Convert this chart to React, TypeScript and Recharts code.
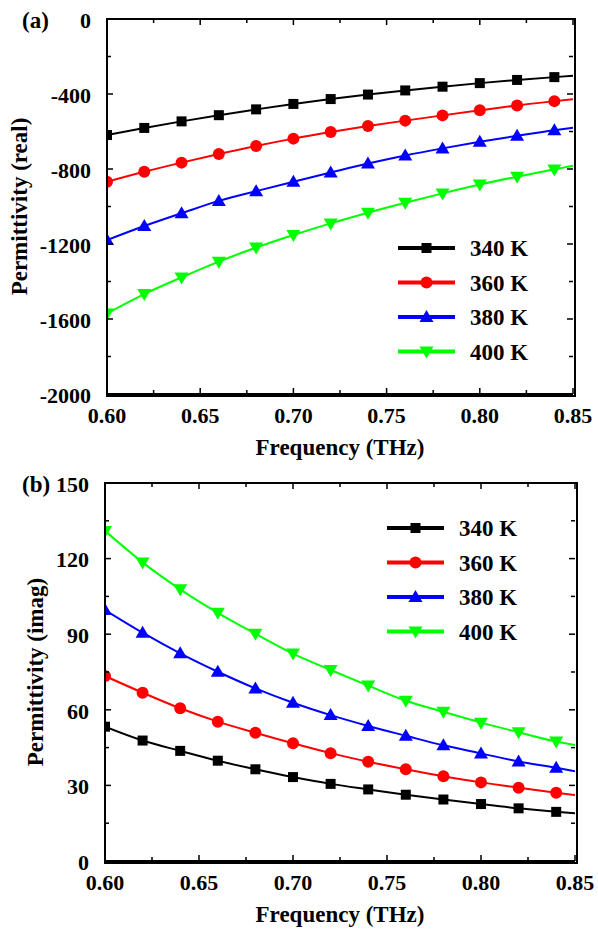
import React from "react";
import { LineChart, Line, XAxis, YAxis, Label } from "recharts";

// x positions (THz); markers on all but the last point
const FREQ = [0.6, 0.62, 0.64, 0.66, 0.68, 0.7, 0.72, 0.74, 0.76, 0.78, 0.8, 0.82, 0.84, 0.85];
const TEMPS = ["340 K", "360 K", "380 K", "400 K"];
const COLORS = ["#000000", "#ff0000", "#0000ff", "#00ff00"];

// (a) real part
const REAL_340 = [-619, -581, -546, -513, -482, -453, -427, -403, -381, -361, -342, -325, -310, -303];
const REAL_360 = [-868, -815, -766, -720, -677, -638, -603, -571, -542, -514, -487, -461, -438, -428];
const REAL_380 = [-1179, -1104, -1036, -970, -918, -868, -819, -771, -728, -690, -655, -623, -593, -580];
const REAL_400 = [-1570, -1467, -1378, -1294, -1219, -1152, -1090, -1033, -980, -930, -883, -841, -802, -783];

// (b) imaginary part
const IMAG_340 = [53.3, 47.8, 43.7, 39.8, 36.4, 33.3, 30.6, 28.4, 26.3, 24.4, 22.6, 20.9, 19.5, 18.9];
const IMAG_360 = [73.4, 66.8, 60.6, 55.3, 50.9, 46.7, 42.8, 39.4, 36.4, 33.6, 31.2, 29.1, 27.1, 26.2];
const IMAG_380 = [99.6, 90.6, 82.4, 75.1, 68.5, 62.8, 57.9, 53.6, 49.7, 45.9, 42.7, 39.5, 37.0, 35.6];
const IMAG_400 = [131, 118.5, 107.8, 98.5, 90.2, 82.3, 75.8, 69.6, 63.6, 59.2, 54.9, 51.1, 47.4, 46.0];

const X_TICKS = [0.6, 0.625, 0.65, 0.675, 0.7, 0.725, 0.75, 0.775, 0.8, 0.825, 0.85];
const REAL_TICKS = [-2000, -1800, -1600, -1400, -1200, -1000, -800, -600, -400, -200, 0];
const IMAG_TICKS = [0, 15, 30, 45, 60, 75, 90, 105, 120, 135, 150];

const FONT = "'Times New Roman', 'Liberation Serif', serif";
const W = 598;
const H = 465;
const X_DOMAIN: [number, number] = [0.6, 0.85];

type Box = { left: number; right: number; top: number; bottom: number };

function Marker({ kind, cx, cy, color }: { kind: number; cx: number; cy: number; color: string }) {
  if (kind === 0) return <rect x={cx - 5} y={cy - 5} width={10} height={10} fill={color} />;
  if (kind === 1) return <circle cx={cx} cy={cy} r={6} fill={color} />;
  if (kind === 2)
    return <polygon points={`${cx},${cy - 7} ${cx - 7},${cy + 5} ${cx + 7},${cy + 5}`} fill={color} />;
  return <polygon points={`${cx},${cy + 7} ${cx - 7},${cy - 5} ${cx + 7},${cy - 5}`} fill={color} />;
}

const T = (props: any) => <text style={{ fontFamily: FONT, fontWeight: 700 }} fill="#000" {...props} />;

interface PanelProps {
  series: number[][];
  yDomain: [number, number];
  yTicks: number[];
  yMajorStep: number;
  yTitle: string;
  yTitleX: number;
  tag: string;
  box: Box;
  legendAt: { x: number; y: number };
}

function Panel({ series, yDomain, yTicks, yMajorStep, yTitle, yTitleX, tag, box, legendAt }: PanelProps) {
  const rows = FREQ.map((f, i) => {
    const r: Record<string, number> = { f };
    series.forEach((s, k) => (r[`s${k}`] = s[i]));
    return r;
  });

  const isMajorX = (v: number) => Math.round(v * 1000) % 50 === 0;
  const isMajorY = (v: number) => Math.round(v) % yMajorStep === 0;

  // same linear mapping as the axes, used only for the frame ticks
  const sx = (v: number) => box.left + ((v - X_DOMAIN[0]) / (X_DOMAIN[1] - X_DOMAIN[0])) * (box.right - box.left);
  const sy = (v: number) => box.bottom - ((v - yDomain[0]) / (yDomain[1] - yDomain[0])) * (box.bottom - box.top);

  const bottomTick = (p: any) => {
    const v = p.payload.value;
    if (!isMajorX(v)) return <g />;
    return (
      <T x={p.x} y={box.bottom + 29} textAnchor="middle" fontSize={22}>
        {v.toFixed(2)}
      </T>
    );
  };
  const leftTick = (p: any) => {
    const v = p.payload.value;
    if (!isMajorY(v)) return <g />;
    return (
      <T x={box.left - 16} y={p.y} dy="0.4em" textAnchor="end" fontSize={22}>
        {v}
      </T>
    );
  };

  const dotFor = (k: number) => (p: any) => {
    if (p.index === FREQ.length - 1) return <g key={`d${k}-${p.index}`} />;
    return (
      <g key={`d${k}-${p.index}`}>
        <Marker kind={k} cx={p.cx} cy={p.cy} color={COLORS[k]} />
      </g>
    );
  };

  const plotMidY = (box.top + box.bottom) / 2;
  const axisLine = { stroke: "#000", strokeWidth: 2 };

  return (
    <div style={{ position: "relative", width: W, height: H }}>
      <LineChart
        width={W}
        height={H}
        data={rows}
        margin={{ top: box.top, right: W - box.right, left: 0, bottom: H - box.bottom - 30 }}
      >
        <XAxis
          dataKey="f"
          type="number"
          domain={X_DOMAIN}
          ticks={X_TICKS}
          interval={0}
          allowDataOverflow
          height={30}
          axisLine={axisLine}
          tickLine={false}
          tick={bottomTick}
        >
          <Label
            content={() => (
              <T x={(box.left + box.right) / 2} y={box.bottom + 61} textAnchor="middle" fontSize={23}>
                Frequency (THz)
              </T>
            )}
          />
        </XAxis>
        <YAxis
          type="number"
          domain={yDomain}
          ticks={yTicks}
          interval={0}
          allowDataOverflow
          width={box.left}
          axisLine={axisLine}
          tickLine={false}
          tick={leftTick}
        >
          <Label
            content={() => (
              <T
                x={yTitleX}
                y={plotMidY}
                textAnchor="middle"
                fontSize={23}
                transform={`rotate(-90 ${yTitleX} ${plotMidY})`}
              >
                {yTitle}
              </T>
            )}
          />
        </YAxis>
        {series.map((_, k) => (
          <Line
            key={TEMPS[k]}
            dataKey={`s${k}`}
            name={TEMPS[k]}
            type="monotone"
            stroke={COLORS[k]}
            strokeWidth={2}
            dot={dotFor(k)}
            activeDot={false}
            isAnimationActive={false}
          />
        ))}
      </LineChart>

      {/* boxed frame with inward ticks, panel tag and legend, drawn above the chart */}
      <div
        style={{
          position: "absolute",
          left: box.left - 1,
          top: box.top - 1,
          width: box.right - box.left,
          height: box.bottom - box.top,
          border: "2px solid #000",
          pointerEvents: "none",
        }}
      />
      <svg
        width={W}
        height={H}
        style={{ position: "absolute", left: 0, top: 0, pointerEvents: "none", overflow: "visible" }}
      >
        {X_TICKS.map((v) => {
          const x = sx(v);
          const len = isMajorX(v) ? 6 : 4;
          return (
            <g key={`x${v}`}>
              <rect x={x - 0.75} y={box.bottom - len} width={1.5} height={len} fill="#000" />
              <rect x={x - 0.75} y={box.top} width={1.5} height={len} fill="#000" />
            </g>
          );
        })}
        {yTicks.map((v) => {
          const y = sy(v);
          const len = isMajorY(v) ? 6 : 4;
          return (
            <g key={`y${v}`}>
              <rect x={box.left} y={y - 0.75} width={len} height={1.5} fill="#000" />
              <rect x={box.right - len} y={y - 0.75} width={len} height={1.5} fill="#000" />
            </g>
          );
        })}
        <T x={22} y={box.top + 9} fontSize={23}>
          {tag}
        </T>
        {TEMPS.map((t, k) => {
          const y = legendAt.y + 12 + k * 34.5;
          const x0 = legendAt.x;
          return (
            <g key={t}>
              <line x1={x0} x2={x0 + 57} y1={y} y2={y} stroke={COLORS[k]} strokeWidth={4} />
              <Marker kind={k} cx={x0 + 28.5} cy={y} color={COLORS[k]} />
              <T x={x0 + 72} y={y} dy="0.36em" fontSize={23}>
                {t}
              </T>
            </g>
          );
        })}
      </svg>
    </div>
  );
}

export default function App() {
  return (
    <div style={{ position: "absolute", left: 0, top: 0, width: W, height: 930, background: "#fff" }}>
      <div style={{ position: "absolute", left: 0, top: 0 }}>
        <Panel
          series={[REAL_340, REAL_360, REAL_380, REAL_400]}
          yDomain={[-2000, 0]}
          yTicks={REAL_TICKS}
          yMajorStep={400}
          yTitle="Permittivity (real)"
          yTitleX={27}
          tag="(a)"
          box={{ left: 107, right: 573, top: 19, bottom: 394 }}
          legendAt={{ x: 398, y: 236 }}
        />
      </div>
      <div style={{ position: "absolute", left: 0, top: H }}>
        <Panel
          series={[IMAG_340, IMAG_360, IMAG_380, IMAG_400]}
          yDomain={[0, 150]}
          yTicks={IMAG_TICKS}
          yMajorStep={30}
          yTitle="Permittivity (imag)"
          yTitleX={43}
          tag="(b)"
          box={{ left: 105, right: 575, top: 18, bottom: 396 }}
          legendAt={{ x: 387, y: 51 }}
        />
      </div>
    </div>
  );
}
